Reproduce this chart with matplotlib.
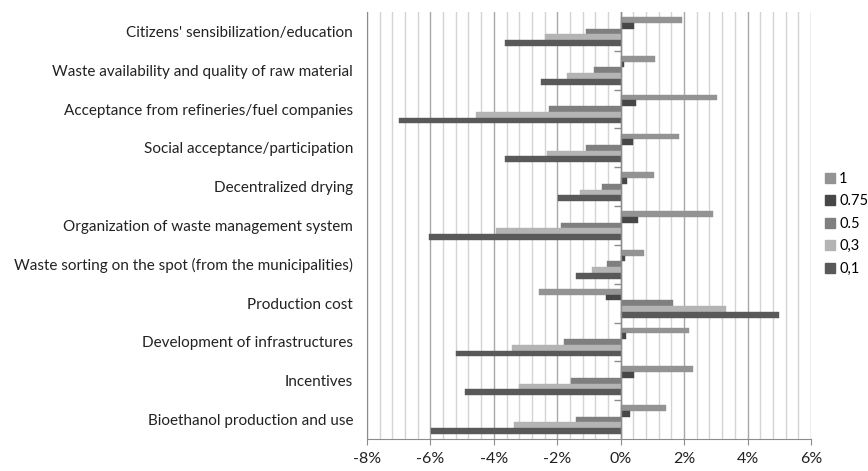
import matplotlib.pyplot as plt
import numpy as np
from matplotlib.patches import Patch
from matplotlib.ticker import FuncFormatter, MultipleLocator

plt.rcParams["font.family"] = ["Lato", "DejaVu Sans"]

categories = [
    "Citizens' sensibilization/education",
    "Waste availability and quality of raw material",
    "Acceptance from refineries/fuel companies",
    "Social acceptance/participation",
    "Decentralized drying",
    "Organization of waste management system",
    "Waste sorting on the spot (from the municipalities)",
    "Production cost",
    "Development of infrastructures",
    "Incentives",
    "Bioethanol production and use",
]

series_labels = ["1", "0.75", "0.5", "0,3", "0,1"]
series_colors = ["#939393", "#474747", "#7f7f7f", "#b4b4b4", "#595959"]

# relative change (%) per factor, one list per weight
w_1 = [1.92, 1.07, 3.05, 1.83, 1.05, 2.90, 0.73, -2.59, 2.14, 2.28, 1.44]
w_075 = [0.42, 0.10, 0.47, 0.40, 0.21, 0.54, 0.15, -0.45, 0.17, 0.41, 0.29]
w_05 = [-1.10, -0.84, -2.26, -1.08, -0.60, -1.87, -0.43, 1.65, -1.78, -1.58, -1.42]
w_03 = [-2.40, -1.68, -4.55, -2.32, -1.28, -3.93, -0.91, 3.32, -3.43, -3.20, -3.36]
w_01 = [-3.66, -2.50, -6.99, -3.66, -1.99, -6.06, -1.41, 5.00, -5.18, -4.90, -5.99]

series_values = [w_1, w_075, w_05, w_03, w_01]

fig = plt.figure(figsize=(8.68, 4.71), dpi=100)
ax = fig.add_axes([0.4228, 0.0679, 0.9343 - 0.4228, 0.9745 - 0.0679])

y = np.arange(len(categories))
h = 0.148
for j, (vals, col) in enumerate(zip(series_values, series_colors)):
    ax.barh(y + (j - 2) * h, vals, height=h, color=col,
            edgecolor=col, linewidth=0.3, zorder=3)

ax.set_xlim(-8, 6)
ax.set_ylim(len(categories) - 0.5, -0.5)

# vertical gridlines: light every 0.4 %, darker every 2 %
ax.xaxis.set_major_locator(MultipleLocator(2))
ax.xaxis.set_minor_locator(MultipleLocator(0.4))
ax.grid(axis="x", which="minor", color="#d4d4d4", linewidth=1.0, zorder=0)
ax.grid(axis="x", which="major", color="#a8a8a8", linewidth=1.0, zorder=0)
ax.xaxis.set_major_formatter(FuncFormatter(lambda v, _: f"{v:.0f}%"))
ax.tick_params(axis="x", which="major", length=4, color="#8c8c8c",
               labelsize=11.5, pad=5, labelcolor="#222222")
ax.tick_params(axis="x", which="minor", length=0)

ax.set_yticks(y)
ax.set_yticklabels(categories)
ax.tick_params(axis="y", length=0, pad=10, labelsize=11, labelcolor="#222222")

for side in ("top", "right"):
    ax.spines[side].set_visible(False)
ax.spines["bottom"].set_color("#8c8c8c")
ax.spines["left"].set_color("#8c8c8c")

# category axis along zero with short tick marks between groups
ax.axvline(0, color="#8c8c8c", linewidth=1.0, zorder=4)
bounds = np.arange(len(categories)) - 0.5
ax.hlines(bounds[1:], -0.22, 0, color="#8c8c8c", linewidth=1.0, zorder=4)

handles = [Patch(facecolor=c, edgecolor=c) for c in series_colors]
fig.legend(handles, series_labels, loc="upper left",
           bbox_to_anchor=(0.950, 0.635), frameon=False, fontsize=10.5,
           handlelength=0.7, handleheight=0.7, handletextpad=0.3,
           labelspacing=0.58, borderaxespad=0, borderpad=0)

fig.savefig("out.png", dpi=100)
